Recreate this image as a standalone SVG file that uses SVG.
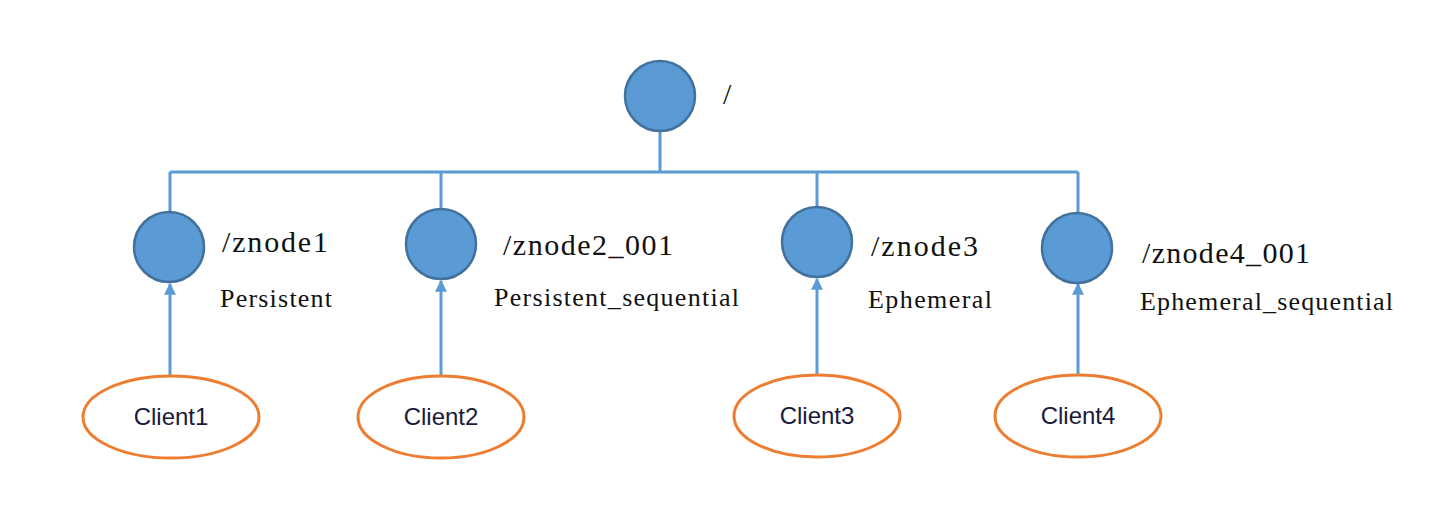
<svg xmlns="http://www.w3.org/2000/svg" width="1445" height="509" viewBox="0 0 1445 509">
<defs>
<marker id="arr" viewBox="0 0 10 10" refX="9" refY="5" markerWidth="4" markerHeight="4" orient="auto" markerUnits="strokeWidth">
<path d="M0,0 L10,5 L0,10 z" fill="#5B9BD5"/>
</marker>
<style>
.zn{fill:#5B9BD5;stroke:#41719C;stroke-width:2.5}
.cl{fill:#fff;stroke:#ED7D31;stroke-width:3}
.ln{stroke:#5B9BD5;stroke-width:3;fill:none}
.nm{font-family:"Liberation Serif","Times New Roman",serif;font-size:30px;fill:#111}
.tp{font-family:"Liberation Serif","Times New Roman",serif;font-size:26px;fill:#111}
.ct{font-family:"Liberation Sans",Arial,sans-serif;font-size:24px;fill:#1a1a3a;text-anchor:middle}
</style>
</defs>
<rect width="1445" height="509" fill="#fff"/>
<g id="connectors">
<path class="ln" d="M660,132 V172 M170,172 H1078 M170,172 V211 M441,172 V208 M817,172 V206 M1078,172 V212"/>
<line class="ln" x1="170" y1="377" x2="170" y2="284" marker-end="url(#arr)"/>
<line class="ln" x1="441" y1="377" x2="441" y2="281" marker-end="url(#arr)"/>
<line class="ln" x1="817" y1="376" x2="817" y2="279" marker-end="url(#arr)"/>
<line class="ln" x1="1078" y1="376" x2="1078" y2="284" marker-end="url(#arr)"/>
</g>
<g id="root">
<circle class="zn" cx="660" cy="96" r="35"/>
<text class="nm" x="723" y="104">/</text>
</g>
<g id="znode1">
<circle class="zn" cx="169" cy="247" r="35"/>
<text class="nm" x="222" y="252" textLength="106" lengthAdjust="spacing">/znode1</text>
<text class="tp" x="220" y="307" textLength="112" lengthAdjust="spacing">Persistent</text>
</g>
<g id="znode2">
<circle class="zn" cx="441" cy="244" r="35"/>
<text class="nm" x="503" y="255" textLength="170" lengthAdjust="spacing">/znode2_001</text>
<text class="tp" x="494" y="306" textLength="245" lengthAdjust="spacing">Persistent_sequential</text>
</g>
<g id="znode3">
<circle class="zn" cx="817" cy="242" r="35"/>
<text class="nm" x="871" y="256" textLength="107" lengthAdjust="spacing">/znode3</text>
<text class="tp" x="868" y="308" textLength="124" lengthAdjust="spacing">Ephemeral</text>
</g>
<g id="znode4">
<circle class="zn" cx="1077" cy="248" r="35"/>
<text class="nm" x="1142" y="263" textLength="168" lengthAdjust="spacing">/znode4_001</text>
<text class="tp" x="1140" y="310" textLength="253" lengthAdjust="spacing">Ephemeral_sequential</text>
</g>
<g id="client1">
<ellipse class="cl" cx="171" cy="417" rx="88" ry="41"/>
<text class="ct" x="171" y="425">Client1</text>
</g>
<g id="client2">
<ellipse class="cl" cx="441" cy="417" rx="83" ry="41"/>
<text class="ct" x="441" y="425">Client2</text>
</g>
<g id="client3">
<ellipse class="cl" cx="817" cy="416" rx="83" ry="41"/>
<text class="ct" x="817" y="424">Client3</text>
</g>
<g id="client4">
<ellipse class="cl" cx="1078" cy="416" rx="83" ry="41"/>
<text class="ct" x="1078" y="424">Client4</text>
</g>
</svg>
